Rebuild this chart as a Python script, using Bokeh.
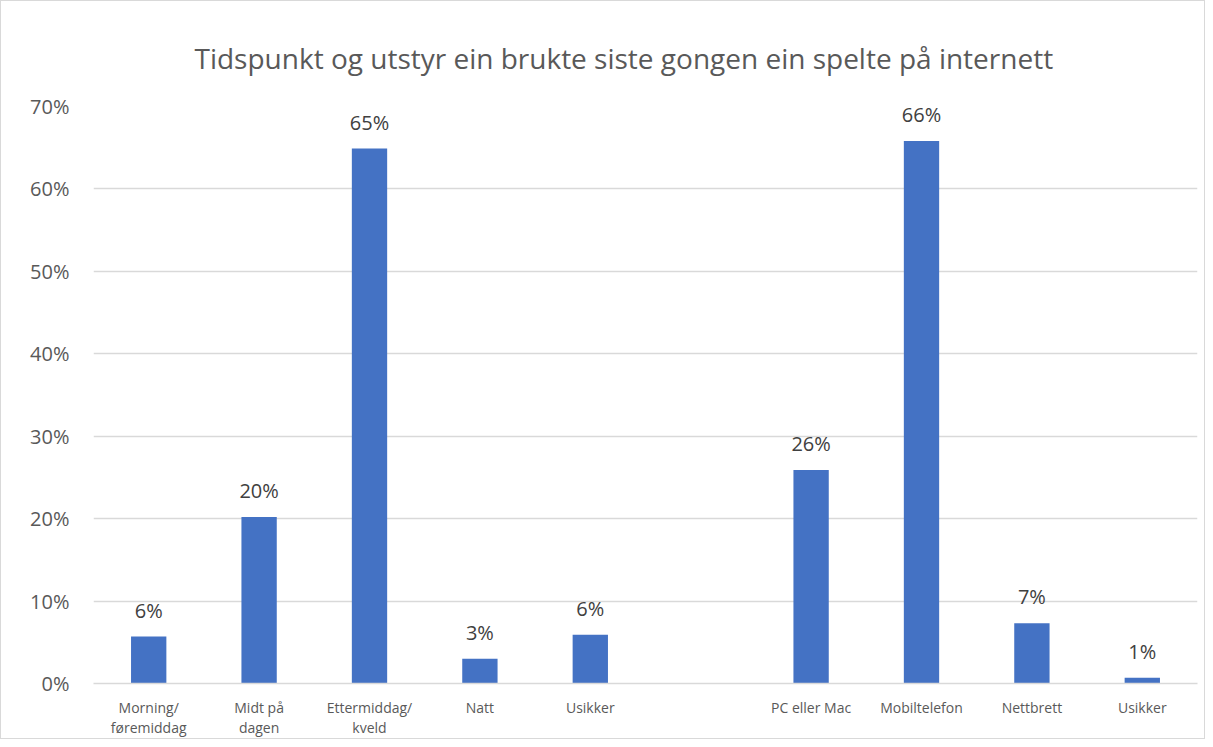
from bokeh.plotting import figure
from bokeh.models import Range1d, FixedTicker, PrintfTickFormatter, ColumnDataSource, LabelSet
from bokeh.core.properties import value
from bokeh.embed import file_html
from bokeh.resources import INLINE

# Data (percent); empty string = gap between the two groups
categories = ["Morning/\nføremiddag", "Midt på\ndagen", "Ettermiddag/\nkveld", "Natt", "Usikker",
              "", "PC eller Mac", "Mobiltelefon", "Nettbrett", "Usikker"]
values = [5.7, 20.2, 64.9, 3.0, 5.9, None, 25.9, 65.8, 7.3, 0.7]
y_ticks = [0, 10, 20, 30, 40, 50, 60, 70]

xs, ys, labels = [], [], []
for i, (c, v) in enumerate(zip(categories, values)):
    if v is not None:
        xs.append(i)
        ys.append(v)
        labels.append(f"{round(v):d}%")

src = ColumnDataSource(dict(x=xs, top=ys, lab=labels))

FONT = "Open Sans"
GREY = "#595959"

p = figure(width=1205, height=739, output_backend="svg", toolbar_location=None,
           x_range=Range1d(-0.5, len(categories) - 0.5), y_range=Range1d(0, 70),
           min_border_left=92, min_border_right=9, min_border_top=105, min_border_bottom=51,
           title="Tidspunkt og utstyr ein brukte siste gongen ein spelte på internett")

p.title.align = "left"
p.title.offset = 101
p.title.text_font = FONT
p.title.text_font_size = "28px"
p.title.text_font_style = "normal"
p.title.text_color = GREY
p.title.standoff = 60

p.vbar(x="x", top="top", width=0.32, source=src, color="#4472C4", line_color=None)

lbl = LabelSet(x="x", y="top", text="lab", source=src, text_align="center",
               text_baseline="alphabetic", y_offset=19, text_font_size="20px",
               text_color="#404040", text_font=value(FONT))
p.add_layout(lbl)

p.outline_line_color = None
p.xgrid.grid_line_color = None
p.ygrid.grid_line_color = "#d9d9d9"
p.ygrid.grid_line_width = 1.3
p.ygrid.ticker = FixedTicker(ticks=y_ticks)

p.yaxis.ticker = FixedTicker(ticks=y_ticks)
p.yaxis.formatter = PrintfTickFormatter(format="%d%%")
p.yaxis.axis_line_color = None
p.yaxis.major_tick_line_color = None
p.yaxis.minor_tick_line_color = None
p.yaxis.major_label_text_font = FONT
p.yaxis.major_label_text_font_size = "20px"
p.yaxis.major_label_text_color = GREY
p.yaxis.major_label_standoff = 18

p.xaxis.ticker = FixedTicker(ticks=xs)
p.xaxis.major_label_overrides = {i: c for i, c in enumerate(categories) if c}
p.xaxis.axis_line_color = "#d9d9d9"
p.xaxis.axis_line_width = 1.3
p.xaxis.major_tick_line_color = None
p.xaxis.minor_tick_line_color = None
p.xaxis.major_label_text_font = FONT
p.xaxis.major_label_text_font_size = "14px"
p.xaxis.major_label_text_line_height = 1.1
p.xaxis.major_label_text_color = GREY
p.xaxis.major_label_standoff = 8

p.styles = {"border": "1px solid #d9d9d9", "box-sizing": "border-box"}

open("out.html", "w").write(file_html(p, INLINE))
